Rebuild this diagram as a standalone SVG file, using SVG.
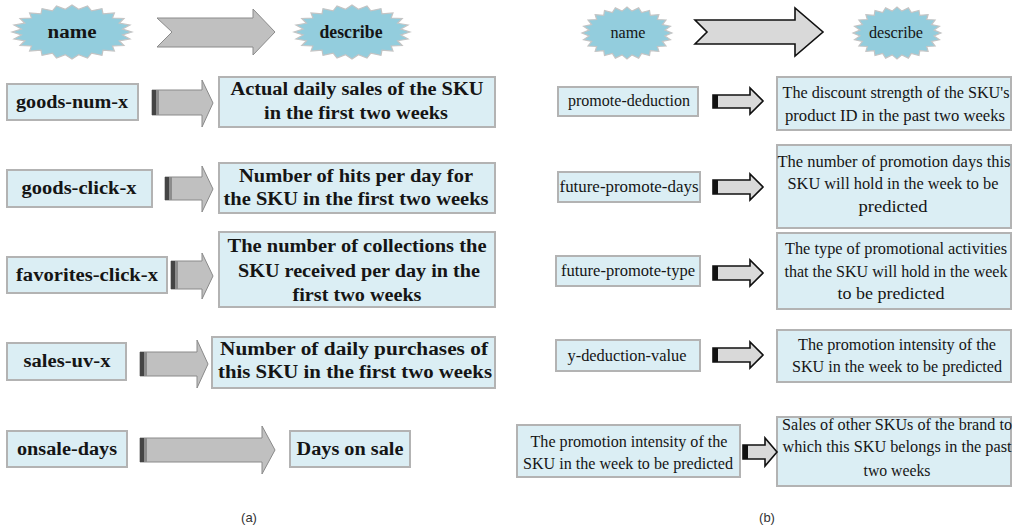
<svg xmlns="http://www.w3.org/2000/svg" xmlns:xlink="http://www.w3.org/1999/xlink" width="1013" height="528" viewBox="0 0 1013 528">
<style>
.box{fill:#dbeef4;stroke:#b3b3b3;stroke-width:2}
.star{fill:#93cddd;stroke:#c4c4c4;stroke-width:1.2}
.la{fill:#c0c0c0;stroke:#8a8a8a;stroke-width:1}
.lb1{fill:#444}
.lb2{fill:#8c8c8c}
.ra{fill:#d9d9d9;stroke:#111;stroke-width:1.6}
.rb{fill:#111}
.lt{font-family:"Liberation Serif","Times New Roman",serif;font-weight:bold;font-size:18px;fill:#151515;text-anchor:middle}
.rt{font-family:"Liberation Serif","Times New Roman",serif;font-size:16px;fill:#151515;text-anchor:middle}
.cap{font-family:"Liberation Sans",Arial,sans-serif;font-size:13px;fill:#333;text-anchor:middle}
</style>
<defs>
<path id="st" vector-effect="non-scaling-stroke" d="M1,0 L.8427,.1109 L.9659,.2588 L.7853,.3253 L.866,.5 L.6744,.5175 L.7071,.7071 L.5175,.6744 L.5,.866 L.3253,.7853 L.2588,.9659 L.1109,.8427 L0,1 L-.1109,.8427 L-.2588,.9659 L-.3253,.7853 L-.5,.866 L-.5175,.6744 L-.7071,.7071 L-.6744,.5175 L-.866,.5 L-.7853,.3253 L-.9659,.2588 L-.8427,.1109 L-1,0 L-.8427,-.1109 L-.9659,-.2588 L-.7853,-.3253 L-.866,-.5 L-.6744,-.5175 L-.7071,-.7071 L-.5175,-.6744 L-.5,-.866 L-.3253,-.7853 L-.2588,-.9659 L-.1109,-.8427 L0,-1 L.1109,-.8427 L.2588,-.9659 L.3253,-.7853 L.5,-.866 L.5175,-.6744 L.7071,-.7071 L.6744,-.5175 L.866,-.5 L.7853,-.3253 L.9659,-.2588 L.8427,-.1109 Z"/>
</defs>
<rect width="1013" height="528" fill="#ffffff"/>

<!-- Panel (a) headers -->
<g id="a-head-name"><use href="#st" class="star" transform="translate(72,32) scale(60,27)"/><text class="lt" x="72" y="38" textLength="49" lengthAdjust="spacingAndGlyphs">name</text></g>
<g id="a-head-describe"><use href="#st" class="star" transform="translate(352,32) scale(58,27)"/><text class="lt" x="351" y="38" textLength="63" lengthAdjust="spacingAndGlyphs">describe</text></g>

<!-- Panel (b) headers -->
<g id="b-head-name"><use href="#st" class="star" transform="translate(627,33) scale(45,26)"/><text class="rt" x="628" y="38" textLength="35" lengthAdjust="spacingAndGlyphs">name</text></g>
<g id="b-head-describe"><use href="#st" class="star" transform="translate(897,33) scale(44,26)"/><text class="rt" x="896" y="38" textLength="54" lengthAdjust="spacingAndGlyphs">describe</text></g>

<!-- Panel (a) nodes -->
<g id="a-n1"><rect class="box" x="7" y="84" width="131" height="36"/><text class="lt" x="72" y="108" textLength="112" lengthAdjust="spacingAndGlyphs">goods-num-x</text></g>
<g id="a-d1"><rect class="box" x="219" y="77" width="276" height="50"/><text class="lt" x="357" y="95" textLength="253" lengthAdjust="spacingAndGlyphs">Actual daily sales of the SKU</text><text class="lt" x="356" y="119" textLength="184" lengthAdjust="spacingAndGlyphs">in the first two weeks</text></g>

<g id="a-n2"><rect class="box" x="7" y="170" width="145" height="37"/><text class="lt" x="79" y="194" textLength="115" lengthAdjust="spacingAndGlyphs">goods-click-x</text></g>
<g id="a-d2"><rect class="box" x="219" y="163" width="276" height="50"/><text class="lt" x="356" y="182" textLength="234" lengthAdjust="spacingAndGlyphs">Number of hits per day for</text><text class="lt" x="356" y="205" textLength="265" lengthAdjust="spacingAndGlyphs">the SKU in the first two weeks</text></g>

<g id="a-n3"><rect class="box" x="7" y="257" width="160" height="36"/><text class="lt" x="87" y="281" textLength="142" lengthAdjust="spacingAndGlyphs">favorites-click-x</text></g>
<g id="a-d3"><rect class="box" x="219" y="232" width="276" height="75"/><text class="lt" x="357" y="252" textLength="259" lengthAdjust="spacingAndGlyphs">The number of collections the</text><text class="lt" x="359" y="277" textLength="242" lengthAdjust="spacingAndGlyphs">SKU received per day in the</text><text class="lt" x="357" y="301" textLength="129" lengthAdjust="spacingAndGlyphs">first two weeks</text></g>

<g id="a-n4"><rect class="box" x="7" y="343" width="119" height="37"/><text class="lt" x="67" y="367" textLength="87" lengthAdjust="spacingAndGlyphs">sales-uv-x</text></g>
<g id="a-d4"><rect class="box" x="212" y="337" width="283" height="51"/><text class="lt" x="354" y="355" textLength="268" lengthAdjust="spacingAndGlyphs">Number of daily purchases of</text><text class="lt" x="355" y="378" textLength="274" lengthAdjust="spacingAndGlyphs">this SKU in the first two weeks</text></g>

<g id="a-n5"><rect class="box" x="7" y="431" width="120" height="36"/><text class="lt" x="67" y="455" textLength="100" lengthAdjust="spacingAndGlyphs">onsale-days</text></g>
<g id="a-d5"><rect class="box" x="290" y="431" width="120" height="36"/><text class="lt" x="350" y="455" textLength="107" lengthAdjust="spacingAndGlyphs">Days on sale</text></g>

<!-- Panel (b) nodes -->
<g id="b-n1"><rect class="box" x="558" y="87" width="140" height="29"/><text class="rt" x="629" y="106" textLength="122" lengthAdjust="spacingAndGlyphs">promote-deduction</text></g>
<g id="b-d1"><rect class="box" x="777" y="77" width="234" height="53"/><text class="rt" x="896" y="98" textLength="227" lengthAdjust="spacingAndGlyphs">The discount strength of the SKU's</text><text class="rt" x="895" y="121" textLength="220" lengthAdjust="spacingAndGlyphs">product ID in the past two weeks</text></g>

<g id="b-n2"><rect class="box" x="558" y="172" width="142" height="30"/><text class="rt" x="629" y="192" textLength="139" lengthAdjust="spacingAndGlyphs">future-promote-days</text></g>
<g id="b-d2"><rect class="box" x="777" y="145" width="234" height="83"/><text class="rt" x="894" y="167" textLength="233" lengthAdjust="spacingAndGlyphs">The number of promotion days this</text><text class="rt" x="893" y="189" textLength="211" lengthAdjust="spacingAndGlyphs">SKU will hold in the week to be</text><text class="rt" x="893" y="212" textLength="69" lengthAdjust="spacingAndGlyphs">predicted</text></g>

<g id="b-n3"><rect class="box" x="556" y="256" width="144" height="30"/><text class="rt" x="628" y="276" textLength="134" lengthAdjust="spacingAndGlyphs">future-promote-type</text></g>
<g id="b-d3"><rect class="box" x="777" y="233" width="234" height="76"/><text class="rt" x="896" y="254" textLength="222" lengthAdjust="spacingAndGlyphs">The type of promotional activities</text><text class="rt" x="896" y="277" textLength="223" lengthAdjust="spacingAndGlyphs">that the SKU will hold in the week</text><text class="rt" x="891" y="299" textLength="107" lengthAdjust="spacingAndGlyphs">to be predicted</text></g>

<g id="b-n4"><rect class="box" x="556" y="340" width="144" height="31"/><text class="rt" x="627" y="361" textLength="119" lengthAdjust="spacingAndGlyphs">y-deduction-value</text></g>
<g id="b-d4"><rect class="box" x="777" y="330" width="234" height="52"/><text class="rt" x="897" y="350" textLength="198" lengthAdjust="spacingAndGlyphs">The promotion intensity of the</text><text class="rt" x="897" y="372" textLength="210" lengthAdjust="spacingAndGlyphs">SKU in the week to be predicted</text></g>

<g id="b-n5"><rect class="box" x="517" y="425" width="223" height="52"/><text class="rt" x="629" y="447" textLength="197" lengthAdjust="spacingAndGlyphs">The promotion intensity of the</text><text class="rt" x="628" y="469" textLength="210" lengthAdjust="spacingAndGlyphs">SKU in the week to be predicted</text></g>
<g id="b-d5"><rect class="box" x="777" y="417" width="234" height="69"/><text class="rt" x="897" y="430" textLength="230" lengthAdjust="spacingAndGlyphs">Sales of other SKUs of the brand to</text><text class="rt" x="897" y="452" textLength="229" lengthAdjust="spacingAndGlyphs">which this SKU belongs in the past</text><text class="rt" x="897" y="476" textLength="67" lengthAdjust="spacingAndGlyphs">two weeks</text></g>

<!-- Connectors -->
<g id="connectors">
<polygon class="la" points="157,18 253,18 253,9 275,32 253,55 253,47 157,47 172,32"/>
<polygon class="ra" points="695,20 795,20 795,8 823,32 795,56 795,44 695,44 707,32"/>

<polygon class="la" points="152,90 202,90 202,80 213,103 202,127 202,115 152,115"/>
<rect class="lb1" x="152" y="90" width="4" height="25"/><rect class="lb2" x="156" y="90" width="3" height="25"/>

<polygon class="la" points="165,177 202,177 202,166 213,189 202,212 202,200 165,200"/>
<rect class="lb1" x="165" y="177" width="4" height="23"/><rect class="lb2" x="169" y="177" width="3" height="23"/>

<polygon class="la" points="171,261 202,261 202,253 213,276 202,299 202,289 171,289"/>
<rect class="lb1" x="171" y="261" width="4" height="28"/><rect class="lb2" x="175" y="261" width="3" height="28"/>

<polygon class="la" points="140,352 197,352 197,340 208,364 197,388 197,376 140,376"/>
<rect class="lb1" x="140" y="352" width="4" height="24"/><rect class="lb2" x="144" y="352" width="3" height="24"/>

<polygon class="la" points="140,438 262,438 262,426 275,450 262,474 262,462 140,462"/>
<rect class="lb1" x="140" y="438" width="4" height="24"/><rect class="lb2" x="144" y="438" width="3" height="24"/>

<polygon class="ra" points="713,95 750,95 750,88 763,101 750,114 750,108 713,108"/>
<rect class="rb" x="713" y="95" width="5" height="13"/>
<polygon class="ra" points="713,180 750,180 750,174 763,187 750,200 750,194 713,194"/>
<rect class="rb" x="713" y="180" width="5" height="14"/>
<polygon class="ra" points="713,266 750,266 750,260 763,273 750,286 750,280 713,280"/>
<rect class="rb" x="713" y="266" width="5" height="14"/>
<polygon class="ra" points="713,348 750,348 750,342 763,355 750,368 750,362 713,362"/>
<rect class="rb" x="713" y="348" width="5" height="14"/>
<polygon class="ra" points="743,445 765,445 765,438 777,452 765,466 765,459 743,459"/>
<rect class="rb" x="743" y="445" width="5" height="14"/>
</g>

<text class="cap" x="249" y="522">(a)</text>
<text class="cap" x="767" y="522">(b)</text>
</svg>
